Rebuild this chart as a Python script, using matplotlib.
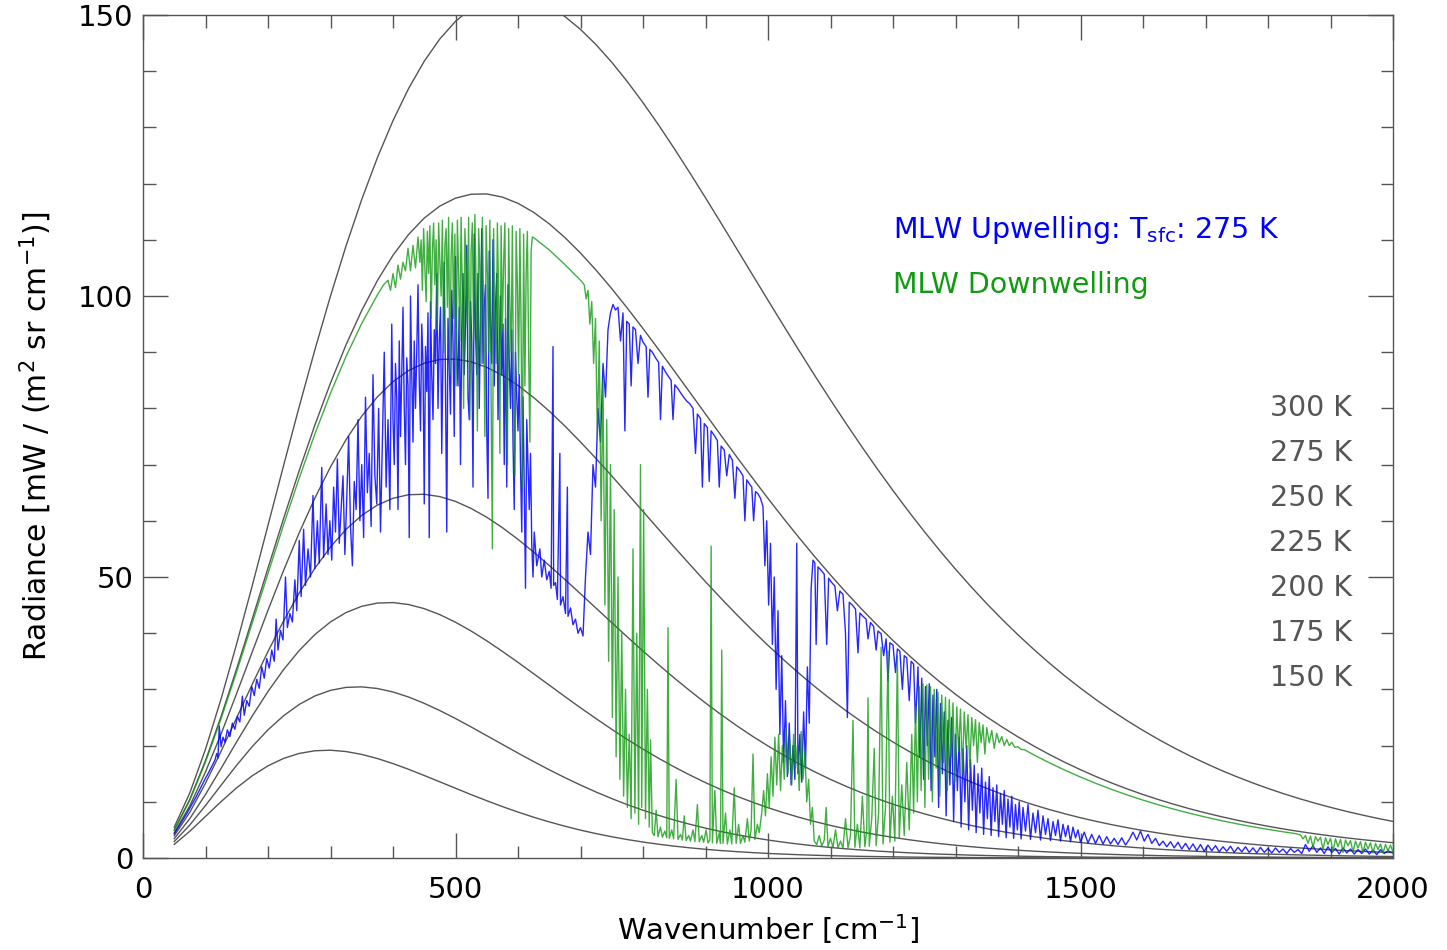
import numpy as np
import matplotlib
matplotlib.use("Agg")
import matplotlib.pyplot as plt

plt.rcParams['font.family'] = ['DejaVu Sans']
plt.rcParams['mathtext.fontset'] = 'dejavusans'
plt.rcParams['mathtext.default'] = 'regular'

# ---------------- Blackbody reference curves (wavenumber grid, cm-1) ----------------
bb_wn = np.arange(50, 2001, 25)
bb_temps = [300, 275, 250, 225, 200, 175, 150]
bb_300 = [5.49, 11.61, 19.35, 28.33, 38.17, 48.55, 59.20, 69.86, 80.33, 90.43, 100.01, 108.96, 117.18, 124.61,
          131.20, 136.93, 141.78, 145.75, 148.87, 151.16, 152.64, 153.38, 153.40, 152.77, 151.53, 149.73, 147.44,
          144.71, 141.59, 138.14, 134.40, 130.42, 126.24, 121.91, 117.47, 112.95, 108.39, 103.81, 99.24, 94.71,
          90.23, 85.82, 81.51, 77.30, 73.20, 69.22, 65.38, 61.67, 58.10, 54.68, 51.39, 48.26, 45.26, 42.42, 39.71,
          37.14, 34.70, 32.39, 30.22, 28.16, 26.23, 24.41, 22.70, 21.09, 19.58, 18.17, 16.85, 15.61, 14.46, 13.38,
          12.38, 11.44, 10.57, 9.76, 9.01, 8.31, 7.67, 7.06, 6.51]
bb_275 = [4.98, 10.46, 17.33, 25.20, 33.72, 42.61, 51.58, 60.43, 68.96, 77.03, 84.52, 91.35, 97.43, 102.74,
          107.25, 110.96, 113.87, 116.01, 117.41, 118.11, 118.16, 117.60, 116.49, 114.89, 112.84, 110.41, 107.64,
          104.59, 101.31, 97.83, 94.21, 90.48, 86.68, 82.85, 79.00, 75.17, 71.37, 67.64, 63.98, 60.41,
          56.95, 53.59, 50.36, 47.25, 44.26, 41.41, 38.70, 36.11, 33.65, 31.33, 29.13, 27.06, 25.11, 23.28, 21.55,
          19.94, 18.43, 17.02, 15.71, 14.48, 13.34, 12.28, 11.29, 10.38, 9.54, 8.75, 8.03, 7.36, 6.74, 6.17,
          5.65, 5.16, 4.72, 4.31, 3.94, 3.59, 3.28, 2.99, 2.72]
bb_250 = [4.47, 9.31, 15.31, 22.09, 29.32, 36.73, 44.08, 51.18, 57.88, 64.04, 69.59, 74.46, 78.62, 82.05,
          84.75, 86.74, 88.04, 88.71, 88.77, 88.29, 87.31, 85.89, 84.08, 81.94, 79.52, 76.87, 74.03,
          71.06, 67.98, 64.84, 61.66, 58.49, 55.33, 52.22, 49.16, 46.19, 43.30, 40.51, 37.83, 35.27,
          32.82, 30.49, 28.28, 26.19, 24.23, 22.37, 20.64, 19.01, 17.49, 16.07, 14.75, 13.52, 12.39, 11.33, 10.36,
          9.46, 8.63, 7.87, 7.16, 6.52, 5.93, 5.39, 4.89, 4.44, 4.02, 3.64, 3.30, 2.98, 2.70, 2.44,
          2.20, 1.99, 1.79, 1.62, 1.46, 1.31, 1.18, 1.06, 0.96]
bb_225 = [3.95, 8.16, 13.30, 19.00, 24.97, 30.96, 36.75, 42.19, 47.16, 51.56, 55.35, 58.49, 60.97, 62.80,
          64.01, 64.64, 64.72, 64.30, 63.45, 62.20, 60.63, 58.78, 56.70, 54.44, 52.05, 49.56, 47.01,
          44.44, 41.87, 39.32, 36.82, 34.39, 32.03, 29.76, 27.58, 25.51, 23.54, 21.68, 19.93, 18.29,
          16.75, 15.32, 13.98, 12.75, 11.60, 10.55, 9.57, 8.68, 7.86, 7.11, 6.42, 5.79, 5.22, 4.70, 4.23,
          3.80, 3.41, 3.06, 2.75, 2.46, 2.20, 1.97, 1.76, 1.57, 1.40, 1.25, 1.11, 0.99, 0.88, 0.78,
          0.70, 0.62, 0.55, 0.49, 0.43, 0.38, 0.34, 0.30, 0.27]
bb_200 = [3.44, 7.03, 11.31, 15.96, 20.70, 25.31, 29.63, 33.53, 36.92, 39.76, 42.01, 43.68, 44.79, 45.36,
          45.45, 45.10, 44.37, 43.30, 41.95, 40.39, 38.64, 36.77, 34.81, 32.79, 30.76, 28.73, 26.73,
          24.79, 22.90, 21.09, 19.37, 17.74, 16.20, 14.76, 13.41, 12.16, 11.00, 9.94, 8.95, 8.05,
          7.23, 6.48, 5.80, 5.18, 4.63, 4.12, 3.67, 3.26, 2.89, 2.56, 2.27, 2.01, 1.77, 1.57, 1.38,
          1.22, 1.07, 0.94, 0.83, 0.73, 0.64, 0.56, 0.49, 0.43, 0.37, 0.33, 0.29, 0.25, 0.22, 0.19,
          0.17, 0.14, 0.13, 0.11, 0.09, 0.08, 0.07, 0.06, 0.05]
bb_175 = [2.93, 5.89, 9.34, 12.96, 16.53, 19.85, 22.81, 25.32, 27.33, 28.83, 29.83, 30.36, 30.45, 30.16,
          29.54, 28.64, 27.52, 26.23, 24.82, 23.32, 21.77, 20.22, 18.67, 17.16, 15.70, 14.30, 12.98,
          11.73, 10.57, 9.49, 8.50, 7.59, 6.75, 6.00, 5.31, 4.70, 4.14, 3.65, 3.20, 2.81,
          2.46, 2.15, 1.87, 1.63, 1.42, 1.23, 1.07, 0.93, 0.80, 0.69, 0.60, 0.51, 0.44, 0.38, 0.33,
          0.28, 0.24, 0.21, 0.18, 0.15, 0.13, 0.11, 0.09, 0.08, 0.07, 0.06, 0.05, 0.04, 0.04, 0.03,
          0.03, 0.02, 0.02, 0.02, 0.01, 0.01, 0.01, 0.01, 0.01]
bb_150 = [2.42, 4.77, 7.40, 10.04, 12.50, 14.65, 16.40, 17.72, 18.61, 19.08, 19.18, 18.94, 18.43, 17.70,
          16.80, 15.78, 14.68, 13.55, 12.41, 11.28, 10.19, 9.15, 8.17, 7.26, 6.42, 5.66, 4.96,
          4.34, 3.78, 3.28, 2.84, 2.45, 2.11, 1.81, 1.55, 1.32, 1.13, 0.96, 0.81, 0.69,
          0.58, 0.49, 0.41, 0.35, 0.29, 0.25, 0.21, 0.17, 0.14, 0.12, 0.10, 0.08, 0.07, 0.06, 0.05,
          0.04, 0.03, 0.03, 0.02, 0.02, 0.02, 0.01, 0.01, 0.01, 0.01, 0.01, 0.00, 0.00, 0.00, 0.00,
          0.00, 0.00, 0.00, 0.00, 0.00, 0.00, 0.00, 0.00, 0.00]

# ---------------- MLW upwelling spectrum (blue) ----------------
up_wn = [50, 55, 60, 65, 70, 75, 80, 85, 90, 95, 100, 105, 110, 115, 118, 120,
         122, 125, 128, 131, 135, 139, 143, 147, 151, 155, 159, 162, 166, 170, 174, 178, 182, 186, 190, 194,
         198, 202, 206, 210, 213, 216, 220, 224, 228, 231, 235, 239, 243, 246, 250, 253, 257, 260, 264, 268,
         272, 275, 279, 282, 286, 289, 293, 296,
         299, 302, 305, 308, 311, 314, 317, 320, 323, 326, 329, 332, 335, 338, 341, 344, 347, 350, 353, 356,
         359, 362, 365, 368, 371, 374, 377, 380, 383, 386, 389, 392, 395,
         398, 400, 402, 404, 406, 408, 410, 412, 414, 416, 418, 420, 422, 424, 426, 428, 430, 432, 434, 436,
         438, 440, 442, 444, 446, 448, 450, 452, 454, 456, 458, 460, 462, 464, 466, 468, 470, 472, 474, 476,
         478, 480, 482, 484, 486, 488, 490, 492, 494, 496, 498, 500, 502, 504, 506, 508, 510, 512, 514, 516,
         518, 520, 522, 524, 526, 528, 530, 532, 534, 536, 538, 540, 542, 544, 546, 548, 550, 552, 554, 556,
         558, 560, 562, 564, 566, 568, 570, 572, 574, 576, 578, 580, 582, 584, 586, 588, 590, 592, 594, 596,
         598, 600, 602, 604, 606, 608, 610, 612, 614, 616, 618, 620, 622, 624,
         626, 630, 635, 638, 642, 646, 650, 653, 656, 657, 660, 663, 667, 668, 672, 676, 679, 680, 684, 688,
         692, 696, 700, 704,
         708, 712, 716, 720, 724, 728, 732, 736, 740, 744, 748,
         752, 756, 760, 764, 768, 771, 774, 778, 781, 784, 788, 792, 796, 800, 805, 808, 811, 815, 820, 825,
         828, 831, 836, 840, 845, 848, 851, 856, 860, 865, 870, 875, 880, 884, 887, 892, 895, 898, 903, 906,
         909, 914, 919, 922, 925, 930, 934, 938, 943, 947, 950, 955, 960, 963, 966, 970, 974, 977, 980, 984, 988,
         992, 995, 998, 1001, 1004, 1007, 1010, 1013, 1016, 1019, 1022, 1025, 1028, 1031, 1034, 1037, 1040,
         1043, 1046, 1048, 1051, 1054, 1057, 1060, 1063, 1066, 1069, 1072,
         1075, 1077, 1080, 1085, 1090, 1094, 1097, 1102, 1107, 1111, 1115, 1120, 1124, 1127, 1130, 1135, 1140,
         1144, 1147, 1152, 1157, 1160, 1164, 1169, 1173, 1176, 1181, 1185, 1189, 1192, 1195, 1200, 1204, 1207,
         1211, 1215, 1218, 1222, 1226, 1229, 1233, 1236, 1240,
         1243, 1246, 1249, 1252, 1255, 1258, 1261, 1264, 1267, 1270, 1273, 1276, 1279, 1282, 1285, 1288, 1291,
         1294, 1297, 1300, 1303, 1306, 1309, 1312, 1315, 1318, 1321, 1324, 1327, 1330, 1333, 1336, 1339, 1342,
         1345, 1348, 1351, 1354, 1357, 1360, 1363, 1366, 1369, 1372, 1375, 1378, 1381, 1384, 1387, 1390, 1393,
         1396, 1399, 1402, 1405, 1408, 1412, 1416, 1420, 1424, 1428, 1432, 1436, 1440, 1444, 1448, 1452, 1456,
         1460, 1464, 1468, 1472, 1476, 1480, 1484, 1488, 1492, 1496, 1500,
         1506, 1512, 1518, 1524, 1530, 1536, 1542, 1548, 1554, 1560, 1566, 1572, 1578, 1584, 1590, 1596, 1602,
         1608, 1614, 1620, 1626, 1632, 1638, 1644, 1650, 1656, 1662, 1668, 1674, 1680, 1686, 1692, 1698, 1704,
         1710, 1716, 1722, 1728, 1734, 1740, 1746, 1752, 1758, 1764, 1770, 1776, 1782, 1788, 1794, 1800, 1806,
         1812, 1818, 1824, 1830, 1836, 1842, 1848, 1854, 1860, 1866, 1872, 1878, 1884, 1890, 1896, 1902, 1908,
         1914, 1920, 1926, 1932, 1938, 1944, 1950, 1956, 1962, 1968, 1974, 1980, 1986, 1992, 2000]
up_rad = [4.3, 5.2, 6.1, 7.0, 7.9, 8.9, 9.9, 10.9, 12.0, 13.1, 14.2, 15.2, 16.3, 17.4, 18.6, 17.8,
          23.5, 19.8, 21.5, 20.6, 22.8, 21.6, 24.0, 22.9, 25.2, 24.2, 28.8, 25.4, 28.0, 27.0, 30.5, 28.9, 31.8,
          30.2, 34.0, 32.0, 35.5, 33.8, 37.0, 35.0, 42.5, 37.0, 40.5, 38.8, 50.0, 41.0, 43.5, 42.0, 49.5, 44.0,
          56.5, 46.5, 58.5, 48.5, 55.0, 50.0, 64.5, 51.5, 60.0, 52.5, 69.5, 53.5, 63.0, 54.0,
          60.0, 53.0, 66.0, 58.0, 71.0, 56.0, 62.0, 68.0, 54.0, 64.0, 75.0, 59.0, 52.0, 67.0, 62.0, 78.0,
          60.0, 70.0, 57.0, 82.0, 65.0, 72.0, 59.0, 86.0, 68.0, 63.0, 80.0, 58.0, 74.0, 90.0, 66.0, 78.0,
          62.0,
          95.0, 78.0, 70.0, 88.0, 82.0, 62.0, 92.0, 75.0, 86.0, 98.0, 80.0, 70.0, 89.0, 84.0, 57.0, 100.0,
          86.0, 74.0, 92.0, 80.0, 90.0, 102.0, 85.0, 76.0, 95.0, 88.0, 63.0, 91.0, 83.0, 97.0, 57.0, 99.0,
          86.0, 78.0, 94.0, 88.0, 104.0, 80.0, 92.0, 98.0, 72.0, 90.0, 106.0, 84.0, 58.0, 96.0, 88.0, 79.0,
          101.0, 92.0, 75.0, 107.0, 90.0, 84.0, 98.0, 70.0, 94.0, 104.0, 86.0, 95.0, 109.0, 82.0, 78.0, 99.0,
          92.0, 66.0, 111.0, 94.0, 86.0, 104.0, 80.0, 96.0, 112.0, 88.0, 98.0, 102.0, 76.0, 64.0, 108.0, 95.0,
          88.0, 110.0, 84.0, 98.0, 104.0, 78.0, 90.0, 100.0, 86.0, 95.0, 70.0, 96.0, 66.0, 102.0, 88.0, 80.0,
          94.0, 74.0, 62.0, 90.0, 82.0, 76.0, 86.0, 70.0, 58.0, 82.0, 66.0, 48.0, 78.0, 70.0, 62.0, 72.0,
          56.0, 50.0,
          58.0, 52.0, 55.0, 50.0, 53.0, 49.5, 51.0, 48.0, 91.0, 48.5, 49.0, 46.0, 72.0, 45.0, 46.5, 43.5, 66.0,
          43.0, 44.5, 41.5, 42.5, 40.0, 41.0, 39.5,
          50.0, 58.0, 54.0, 70.0, 66.0, 80.0, 74.0, 88.0, 82.0, 94.0, 97.0,
          98.5, 97.5, 98.0, 92.0, 97.0, 76.0, 95.5, 95.0, 84.0, 94.5, 94.0, 88.0, 93.0, 91.8, 91.0, 82.0, 90.5,
          90.0, 89.0, 88.2, 78.0, 87.5, 86.5, 85.8, 85.0, 78.0, 84.2, 83.5, 82.8, 82.0, 81.3, 80.8, 80.0, 72.0,
          79.0, 78.2, 66.0, 77.3, 76.6, 67.0, 76.0, 75.2, 74.3, 66.0, 73.3, 72.6, 68.0, 71.8, 70.8, 64.0, 69.6,
          68.9, 68.0, 60.0, 67.3, 66.6, 66.0, 60.0, 65.2, 64.8, 64.0,
          62.5, 52.0, 60.0, 45.0, 56.0, 38.0, 50.0, 30.0, 44.0, 22.0, 36.0, 17.0, 28.0, 14.5, 24.0, 13.0, 20.0,
          14.0, 56.0, 15.0, 22.0, 13.5, 26.0, 16.0, 34.0, 24.0, 48.0, 53.0,
          52.5, 38.0, 51.8, 51.2, 50.5, 38.0, 49.8, 49.0, 48.4, 44.0, 47.5, 46.9, 40.0, 25.0, 45.5, 45.0, 44.3,
          36.5, 43.6, 43.0, 42.5, 39.0, 41.9, 41.2, 37.0, 40.4, 39.9, 36.0, 39.0, 31.5, 38.3, 37.9, 33.0, 37.2,
          36.8, 30.0, 36.0, 35.6, 28.0, 35.0, 34.5, 24.0, 34.0,
          18.0, 32.0, 14.0, 30.5, 20.0, 31.0, 12.0, 29.0, 18.0, 30.0, 9.0, 27.5, 15.0, 26.0, 7.5, 24.5, 13.0,
          25.0, 6.5, 22.0, 12.0, 21.5, 5.5, 19.5, 10.0, 20.0, 5.0, 17.5, 8.5, 16.5, 4.5, 15.0, 8.0, 16.0,
          4.2, 13.5, 7.0, 14.5, 4.0, 12.5, 6.5, 13.0, 3.8, 11.5, 6.0, 12.0, 3.6, 10.5, 5.5, 11.0, 3.5,
          9.5, 5.0, 10.0, 3.4, 9.0, 4.8, 9.5, 3.3, 8.0, 4.5, 8.5, 3.2, 7.5, 4.2, 7.0, 3.1, 6.5,
          4.0, 6.8, 3.0, 6.0, 3.8, 5.8, 2.9, 5.5, 3.6, 5.0, 2.8,
          4.6, 2.7, 4.2, 2.6, 4.0, 2.5, 3.8, 2.5, 3.5, 2.4, 3.6, 2.3, 3.3, 4.6, 3.2, 4.8, 3.0,
          4.2, 2.6, 3.5, 2.2, 3.0, 2.0, 2.9, 1.8, 2.8, 1.6, 2.6, 1.5, 2.5, 1.3, 2.4, 1.2, 2.3,
          1.3, 2.2, 1.1, 2.0, 1.2, 2.1, 1.0, 1.9, 1.1, 2.0, 1.0, 1.8, 0.9, 1.9, 1.0, 1.7, 0.9,
          1.8, 1.0, 1.6, 0.8, 1.7, 1.0, 1.5, 0.8, 2.4, 1.2, 2.2, 1.0, 1.8, 0.8, 2.0, 1.0, 1.7,
          0.7, 1.8, 0.9, 1.6, 0.7, 1.5, 0.8, 1.6, 0.7, 1.4, 0.6, 1.5, 0.8, 1.3, 0.9]

# ---------------- MLW downwelling spectrum (green) ----------------
down_wn = [50, 75, 100, 125, 150, 175, 200, 225, 250, 275, 300, 325, 350, 375,
           385, 392, 396, 400, 404, 408, 412, 416, 420, 424, 428, 432, 436, 440,
           443, 445, 447, 449, 451, 453, 455, 457, 459, 461, 463, 465, 467, 469, 471, 473, 475, 477, 479, 481,
           483, 485, 487, 489, 491, 493, 495, 497, 499, 501, 503, 505, 507, 509, 511, 513, 515, 517, 519, 521,
           523, 525, 527, 529, 531, 533, 535, 537, 539, 541, 543, 545, 547, 549, 551, 553, 555, 557, 559, 561,
           563, 565, 567, 569, 571, 573, 575, 577, 579, 581, 583, 585, 587, 589, 591, 593, 595, 597, 599, 601,
           603, 605, 607, 609, 611, 613, 615, 617, 619, 621, 623,
           625, 650, 675, 700, 706,
           709, 712, 715, 718, 721, 724, 727, 730, 733, 736, 739, 742, 745, 748, 751, 754, 757, 760, 763, 766,
           769, 772, 775, 778, 781, 784, 787, 790, 793, 796, 798, 801, 804, 807, 810, 812, 815,
           818, 821, 824, 828, 831, 835, 838, 840, 842, 846, 849, 853, 856, 860, 863, 866, 869, 873, 876, 880,
           883, 887, 890, 894, 897, 901, 904, 907, 909, 911, 915, 918, 922, 924, 926, 928, 932, 935, 939, 942,
           946, 949, 953, 956, 960, 963, 967, 970, 973, 976, 979, 983, 986,
           990, 993, 996, 999, 1002, 1005, 1008, 1011, 1014, 1017, 1020, 1023, 1026, 1029, 1032, 1035, 1038,
           1041, 1044, 1047, 1050, 1053, 1056, 1059, 1062, 1065, 1068, 1071, 1074,
           1078, 1082, 1086, 1090, 1093, 1096, 1100, 1104, 1108, 1112, 1116, 1120, 1124, 1128, 1132, 1136, 1139,
           1143, 1147, 1151, 1155, 1158, 1160, 1162, 1166, 1170, 1173, 1177, 1181, 1184, 1188, 1192, 1195, 1199,
           1203, 1207, 1210, 1214, 1218, 1222, 1226, 1230, 1233, 1236, 1239,
           1242, 1245, 1248, 1251, 1254, 1257, 1260, 1263, 1266, 1269, 1272, 1275, 1278, 1281, 1284, 1287, 1290,
           1293, 1296, 1299, 1302, 1305, 1308, 1311, 1314, 1317, 1320, 1323, 1326, 1329, 1332, 1335, 1338, 1341,
           1344, 1347, 1350, 1354, 1358, 1362, 1366, 1370, 1374, 1378, 1382, 1386, 1390, 1395, 1400, 1405, 1410,
           1425, 1450, 1475, 1500, 1525, 1550, 1575, 1600, 1625, 1650, 1675, 1700, 1725, 1750, 1775, 1800, 1825,
           1845,
           1852, 1856, 1860, 1864, 1868, 1872, 1876, 1880, 1884, 1888, 1892, 1896, 1900, 1904, 1908, 1912, 1916,
           1920, 1924, 1928, 1932, 1936, 1940, 1944, 1948, 1952, 1956, 1960, 1964, 1968, 1972, 1976, 1980, 1984,
           1988, 1992, 1996, 2000]
down_rad = [4.92, 10.32, 17.08, 24.82, 33.19, 41.90, 50.67, 59.30, 67.61, 75.45, 82.70, 89.28, 95.12, 100.19,
            102.0, 102.8, 101.0, 104.0, 101.5, 105.5, 103.0, 106.0, 104.5, 108.5, 104.5, 109.0, 105.0, 110.5,
            106.0, 110.0, 101.0, 112.0, 105.0, 99.0, 111.5, 104.0, 112.5, 96.0, 108.0, 113.0, 102.0, 110.0,
            94.0, 113.0, 106.0, 100.0, 113.5, 90.0, 109.0, 112.0, 98.0, 114.0, 86.0, 107.0, 113.0, 96.0, 111.0,
            84.0, 113.5, 104.0, 92.0, 114.0, 100.0, 80.0, 112.0, 106.0, 95.0, 114.0, 78.0, 108.0, 113.0, 92.0,
            114.5, 102.0, 76.0, 112.0, 105.0, 88.0, 114.0, 98.0, 75.0, 112.5, 104.0, 90.0, 113.5, 82.0, 55.0,
            112.0, 96.0, 88.0, 113.0, 100.0, 72.0, 112.5, 94.0, 106.0, 113.0, 86.0, 70.0, 112.0, 98.0, 90.0,
            112.5, 80.0, 68.0, 111.5, 102.0, 86.0, 112.0, 94.0, 66.0, 111.0, 84.0, 104.0, 111.5, 90.0, 74.0,
            108.0, 110.5,
            110.4, 108.2, 105.6, 102.8, 102.0,
            99.5, 101.0, 95.0, 99.0, 88.0, 96.0, 75.0, 92.0, 60.0, 85.0, 45.0, 78.0, 35.0, 70.0, 25.0, 62.0,
            18.0, 50.0, 14.0, 40.0, 11.0, 30.0, 9.0, 22.0, 7.0, 55.0, 8.0, 40.0, 6.0, 70.0, 9.0, 62.0, 7.0,
            30.0, 5.5, 21.0, 4.5,
            4.0, 8.5, 3.8, 5.5, 3.7, 4.8, 3.6, 41.0, 3.5, 5.0, 3.4, 14.0, 3.3, 4.2, 3.2, 7.5, 3.1, 4.0, 3.0,
            5.0, 2.9, 9.5, 2.9, 4.0, 2.8, 5.0, 2.7, 3.2, 55.5, 2.7, 12.0, 2.6, 4.5, 2.6, 37.0, 2.6, 8.0, 2.5,
            5.0, 2.5, 12.5, 2.6, 6.0, 2.6, 4.0, 2.8, 7.0, 3.0, 5.0, 18.5, 3.3, 6.0, 4.5,
            8.0, 12.0, 7.5, 15.0, 9.0, 18.0, 11.0, 21.5, 13.0, 22.0, 12.0, 20.0, 14.0, 23.0, 15.0, 21.0, 13.0,
            22.0, 16.0, 20.0, 12.0, 22.5, 14.0, 19.0, 10.0, 14.0, 6.0, 9.0, 3.0,
            2.4, 4.0, 2.1, 3.2, 9.0, 2.0, 3.5, 1.9, 5.0, 1.8, 3.0, 1.8, 7.0, 1.8, 4.0, 24.5, 1.9,
            6.0, 1.8, 11.0, 2.0, 5.0, 28.5, 2.1, 7.0, 19.5, 2.2, 8.0, 37.5, 2.5, 9.0, 36.8, 2.8, 11.0,
            3.0, 36.0, 3.5, 13.0, 4.0, 17.0, 5.0, 22.0, 8.0, 27.0, 10.0,
            30.5, 12.0, 31.0, 9.0, 30.8, 14.0, 30.5, 10.0, 30.0, 16.0, 29.5, 11.0, 29.0, 17.0, 28.6, 12.0, 28.2,
            18.0, 27.6, 13.5, 26.9, 19.0, 26.5, 15.0, 26.0, 19.5, 25.5, 16.0, 25.0, 20.0, 24.6, 17.0, 24.1, 20.5,
            23.7, 18.5, 23.2, 20.5, 22.7, 19.5, 22.2, 20.5, 21.6, 20.0, 21.1, 20.0, 20.6, 19.7, 19.8, 19.3, 19.3,
            18.37, 16.95, 15.63, 14.40, 13.26, 12.20, 11.21, 10.30, 9.45, 8.67, 7.95, 7.28, 6.66, 6.09, 5.57,
            5.09, 4.65, 4.32,
            4.1, 3.4, 4.0, 2.6, 3.9, 1.9, 3.8, 3.0, 3.7, 1.5, 3.6, 2.4, 3.5, 1.2, 3.4, 2.0, 3.3,
            1.0, 3.2, 2.2, 3.1, 1.1, 3.0, 1.8, 2.9, 1.0, 2.8, 1.6, 2.7, 0.9, 2.6, 1.5, 2.5, 0.9,
            2.4, 1.3, 2.3, 1.0]

# ---------------- text ----------------
title_up = "MLW Upwelling: T$_{\\rm sfc}$: 275 K"
title_down = "MLW Downwelling"
x_label = "Wavenumber [cm$^{-1}$]"
y_label = "Radiance [mW / (m$^2$ sr cm$^{-1}$)]"

GRAY = "#555555"
BLUE = "#0000ff"
GREEN = "#129a12"

fig = plt.figure(figsize=(14.47, 9.5), dpi=100)
ax = fig.add_axes([143 / 1447, 92 / 950, 1250 / 1447, 843 / 950])

for vals in [bb_300, bb_275, bb_250, bb_225, bb_200, bb_175, bb_150]:
    ax.plot(bb_wn, vals, color=GRAY, lw=1.0, zorder=2)

ax.plot(up_wn, up_rad, color=BLUE, lw=1.0, zorder=3, alpha=0.85)
ax.plot(down_wn, down_rad, color=GREEN, lw=1.0, zorder=4, alpha=0.8)

ax.set_xlim(0, 2000)
ax.set_ylim(0, 150)
ax.set_xticks([0, 500, 1000, 1500, 2000])
ax.set_xticks(np.arange(0, 2001, 100), minor=True)
ax.set_yticks([0, 50, 100, 150])
ax.set_yticks(np.arange(0, 151, 10), minor=True)
ax.tick_params(which='both', direction='in', top=True, right=True, colors=GRAY, labelcolor='black',
               labelsize=21)
ax.tick_params(which='major', length=18, width=1.0)
ax.tick_params(which='minor', length=9, width=1.0)
ax.tick_params(axis='x', pad=13)
ax.tick_params(axis='y', pad=7)
for sp in ax.spines.values():
    sp.set_color(GRAY)
    sp.set_linewidth(1.0)

ax.set_xlabel(x_label, fontsize=21, labelpad=6)
ax.set_ylabel(y_label, fontsize=21.5, labelpad=17)

ax.text(1200, 111.8, title_up, color=BLUE, fontsize=20.5, va='center', ha='left')
ax.text(1200, 102.0, title_down, color=GREEN, fontsize=20.5, va='center', ha='left')

for i, t in enumerate(bb_temps):
    ax.text(1934, 80 - 8 * i, f"{t} K", color=GRAY, fontsize=20.5, va='center', ha='right')

fig.savefig("out.png", dpi=100)
